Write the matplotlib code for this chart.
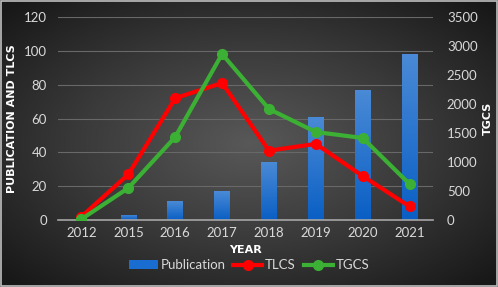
import numpy as np
import matplotlib.pyplot as plt
from matplotlib.patches import Rectangle
from matplotlib.colors import LinearSegmentedColormap

years = ['2012', '2015', '2016', '2017', '2018', '2019', '2020', '2021']
publication = [0, 3, 11, 17, 34, 61, 77, 98]
tlcs = [2, 27, 72, 81, 41, 45, 26, 8]
tgcs = [15, 552, 1431, 2862, 1914, 1517, 1414, 620]

txt = '#d9d9d9'
plt.rcParams['font.family'] = ['Lato', 'DejaVu Sans']

fig = plt.figure(figsize=(4.98, 2.87), dpi=100)

# dark radial background
bg = fig.add_axes([0, 0, 1, 1])
yy, xx = np.mgrid[0:1:300j, 0:1:500j]
r = np.sqrt(((xx - 0.5) / 0.8) ** 2 + ((yy - 0.5) / 0.8) ** 2)
bgcmap = LinearSegmentedColormap.from_list('bg', ['#585858', '#3a3a3a', '#181818'])
bg.imshow(r, cmap=bgcmap, vmin=0, vmax=0.85, extent=[0, 1, 0, 1],
          aspect='auto', origin='lower')
bg.add_patch(Rectangle((0.002, 0.003), 0.996, 0.994, fill=False,
                       edgecolor='#bfbfbf', lw=1.2))
bg.set_axis_off()

ax = fig.add_axes([0.1165, 0.2334, 0.753, 0.7074])
ax.patch.set_alpha(0)
x = np.arange(len(years))

bars = ax.bar(x, publication, width=0.33, color='#1a6dd0', zorder=2,
              label='Publication')
# vertical gradient on the bars
grad = np.linspace(0, 1, 100).reshape(-1, 1)
bcmap = LinearSegmentedColormap.from_list('b', ['#0a5fc4', '#4a8ad6'])
for b in bars:
    if b.get_height() <= 0:
        continue
    im = ax.imshow(grad, cmap=bcmap, aspect='auto', origin='lower',
                   extent=[b.get_x(), b.get_x() + b.get_width(), 0, b.get_height()],
                   zorder=2)
    im.set_clip_path(b)
ax.set_xlim(-0.5, len(years) - 0.5)
ax.set_ylim(0, 120)
ax.set_yticks(range(0, 121, 20))
ax.set_xticks(x)
ax.set_xticklabels(years)
ax.grid(axis='y', color='#686868', lw=0.8, zorder=0)
ax.set_axisbelow(True)
for s in ['top', 'right', 'left']:
    ax.spines[s].set_visible(False)
ax.spines['bottom'].set_color('#a6a6a6')
ax.spines['bottom'].set_linewidth(1.2)
ax.tick_params(length=0, colors=txt, labelsize=9.5, pad=5)
ax.tick_params(axis='y', pad=8)

l1, = ax.plot(x, tlcs, color='#ff0000', lw=3, marker='o', ms=7,
              zorder=4, label='TLCS')

ax2 = ax.twinx()
ax2.set_ylim(0, 3500)
ax2.set_yticks(range(0, 3501, 500))
for s in ax2.spines.values():
    s.set_visible(False)
ax2.tick_params(length=0, colors=txt, labelsize=9.5, pad=10)
l2, = ax2.plot(x, tgcs, color='#3cb034', lw=3, marker='o', ms=7,
               zorder=5, label='TGCS')

ax.set_ylabel('PUBLICATION AND TLCS', color='white', fontsize=8,
              fontweight='bold', family='DejaVu Sans', labelpad=5)
ax2.set_ylabel('TGCS', color='white', fontsize=8, fontweight='bold',
               family='DejaVu Sans', labelpad=4)
ax.set_xlabel('YEAR', color='white', fontsize=8, fontweight='bold',
              family='DejaVu Sans', labelpad=4)

leg = fig.legend(handles=[bars, l1, l2], loc='center', ncol=3,
                 bbox_to_anchor=(0.5, 0.075), frameon=False, fontsize=9.5,
                 labelcolor=txt, handlelength=2.2, columnspacing=0.6,
                 handletextpad=0.2)

fig.savefig('out.png', dpi=100)
